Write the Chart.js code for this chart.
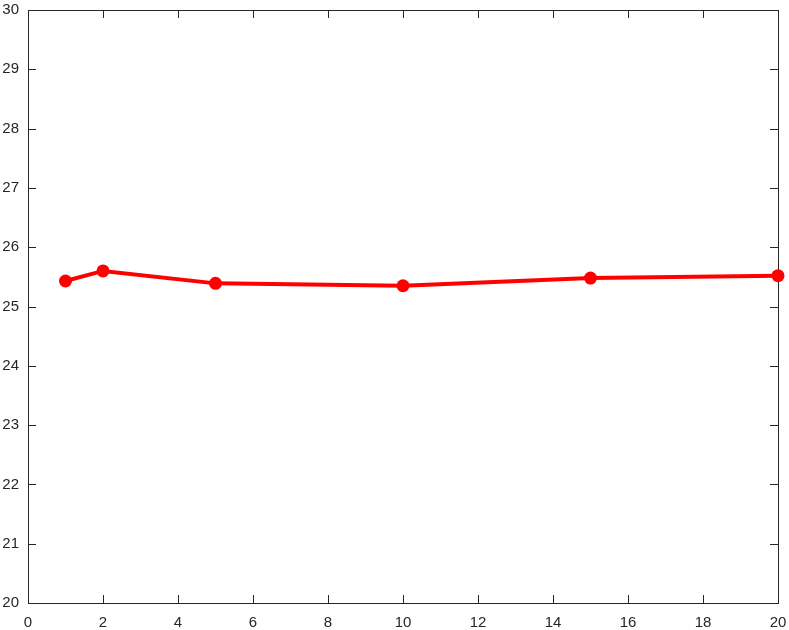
<!DOCTYPE html>
<html lang="en">
<head>
<meta charset="UTF-8">
<script src="https://cdn.jsdelivr.net/npm/chart.js"></script>
<style>
  html, body { margin: 0; padding: 0; background: #fff; }
  #wrap { width: 789px; height: 630px; }
</style>
</head>
<body>
<div id="wrap"><canvas id="chart" width="789" height="630"></canvas></div>
<script>
const xValues = [1, 2, 5, 10, 15, 20];
const yValues = [25.43, 25.60, 25.39, 25.35, 25.48, 25.52];
const xTicks = [0, 2, 4, 6, 8, 10, 12, 14, 16, 18, 20];
const yTicks = [20, 21, 22, 23, 24, 25, 26, 27, 28, 29, 30];

const axisColor = '#262626';
const font = { family: 'Liberation Sans, Arial, sans-serif', size: 15 };

// box round the plot plus inward ticks on all four sides
const boxTicks = {
    id: 'boxTicks',
    beforeDatasetsDraw(chart) {
        const { ctx, chartArea: a, scales: { x, y } } = chart;
        const len = 8;
        ctx.save();
        ctx.strokeStyle = axisColor;
        ctx.lineWidth = 1;
        ctx.beginPath();
        xTicks.forEach(v => {
            const px = Math.round(x.getPixelForValue(v)) + 0.5;
            ctx.moveTo(px, a.bottom); ctx.lineTo(px, a.bottom - len);
            ctx.moveTo(px, a.top); ctx.lineTo(px, a.top + len);
        });
        yTicks.forEach(v => {
            const py = Math.round(y.getPixelForValue(v)) + 0.5;
            ctx.moveTo(a.left, py); ctx.lineTo(a.left + len, py);
            ctx.moveTo(a.right, py); ctx.lineTo(a.right - len, py);
        });
        ctx.stroke();
        ctx.strokeRect(Math.round(a.left) + 0.5, Math.round(a.top) + 0.5,
            Math.round(a.right - a.left), Math.round(a.bottom - a.top));
        ctx.restore();
    }
};

new Chart(document.getElementById('chart'), {
    type: 'line',
    data: {
        datasets: [{
            data: xValues.map((v, i) => ({ x: v, y: yValues[i] })),
            borderColor: '#ff0000',
            backgroundColor: '#ff0000',
            borderWidth: 4,
            pointRadius: 6.5,
            pointHoverRadius: 6.5,
            pointBorderWidth: 0,
            tension: 0,
            clip: false
        }]
    },
    options: {
        responsive: false,
        animation: false,
        events: [],
        layout: { autoPadding: false, padding: 0 },
        plugins: { legend: { display: false }, tooltip: { enabled: false } },
        scales: {
            x: {
                type: 'linear',
                min: 0, max: 20,
                afterBuildTicks: s => { s.ticks = xTicks.map(v => ({ value: v })); },
                afterFit: s => { s.height = 27; s.paddingLeft = 0; s.paddingRight = 11; },
                grid: { display: false, drawTicks: false },
                border: { display: false },
                ticks: { color: axisColor, font, padding: 11, maxRotation: 0 }
            },
            y: {
                type: 'linear',
                min: 20, max: 30,
                afterBuildTicks: s => { s.ticks = yTicks.map(v => ({ value: v })); },
                afterFit: s => { s.width = 28; s.paddingTop = 10; s.paddingBottom = 0; },
                grid: { display: false, drawTicks: false },
                border: { display: false },
                ticks: { color: axisColor, font, padding: 9 }
            }
        }
    },
    plugins: [boxTicks]
});
</script>
</body>
</html>
